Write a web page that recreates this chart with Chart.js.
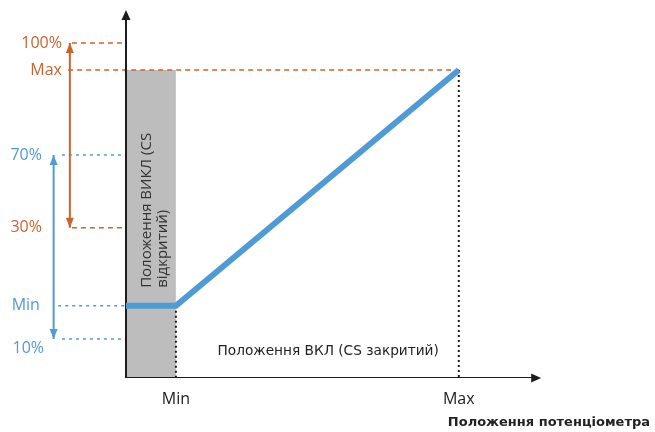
<!DOCTYPE html>
<html>
<head>
<meta charset="utf-8">
<script src="https://cdn.jsdelivr.net/npm/chart.js@4.4.1/dist/chart.umd.min.js"></script>
<style>
  body { margin: 0; background: #ffffff; }
  canvas { display: block; }
</style>
</head>
<body>
<canvas id="schemeChart" width="655" height="432"></canvas>
<script>
// output levels on the vertical axis (schematic units, axis goes 0..100)
const levelNames = ['100%', 'Max', '70%', '30%', 'Min', '10%'];
const levelValues = [91, 83.7, 60.6, 40.8, 19.6, 10.6];

// potentiometer positions on the horizontal axis (axis goes 0..100)
const positionNames = ['Min', 'Max'];
const positionValues = [12, 80];

// output curve: flat at Min until the pot leaves Min, then rises to Max
const curveX = [0, 12, 80];
const curveY = [19.6, 19.6, 83.7];

const ORANGE = '#c8642e';
const BLUE = '#4f9bd5';
const BLACK = '#1c1c1c';

function seg(points, color, width, dash, order) {
    return {
        data: points,
        borderColor: color,
        borderWidth: width,
        borderDash: dash || [],
        borderCapStyle: 'butt',
        pointRadius: 0,
        fill: false,
        order: order
    };
}

function lvl(name) {
    return levelValues[levelNames.indexOf(name)];
}
function pos(name) {
    return positionValues[positionNames.indexOf(name)];
}

document.addEventListener('DOMContentLoaded', function () {
    const ctx = document.getElementById('schemeChart').getContext('2d');

    const datasets = [];

    // blue output curve (on top)
    datasets.push(seg(curveX.map((x, i) => ({ x: x, y: curveY[i] })), BLUE, 6, [], 0));

    // axes
    const axes = seg([{ x: 0, y: 98 }, { x: 0, y: 0 }, { x: 98.5, y: 0 }], BLACK, 2, [], 1);
    axes.borderJoinStyle = 'miter';
    datasets.push(axes);

    // vertical range arrows
    datasets.push(seg([{ x: -13.5, y: lvl('30%') }, { x: -13.5, y: lvl('100%') }], ORANGE, 2, [], 2));
    datasets.push(seg([{ x: -17.4, y: lvl('10%') }, { x: -17.4, y: lvl('70%') }], BLUE, 2, [], 2));

    // orange dashed guides
    datasets.push(seg([{ x: -13, y: lvl('100%') }, { x: 0, y: lvl('100%') }], ORANGE, 1.5, [5, 4], 3));
    datasets.push(seg([{ x: -13.9, y: lvl('Max') }, { x: pos('Max'), y: lvl('Max') }], ORANGE, 1.5, [5, 4], 3));
    datasets.push(seg([{ x: -13, y: lvl('30%') }, { x: 0, y: lvl('30%') }], ORANGE, 1.5, [5, 4], 3));

    // blue dotted guides
    datasets.push(seg([{ x: -15.4, y: lvl('70%') }, { x: 0, y: lvl('70%') }], BLUE, 1.5, [3, 4], 3));
    datasets.push(seg([{ x: -16.3, y: lvl('Min') }, { x: 0, y: lvl('Min') }], BLUE, 1.5, [3, 4], 3));
    datasets.push(seg([{ x: -15.4, y: lvl('10%') }, { x: 0, y: lvl('10%') }], BLUE, 1.5, [3, 4], 3));

    // black dotted verticals at Min / Max position
    datasets.push(seg([{ x: pos('Min'), y: lvl('Min') }, { x: pos('Min'), y: 0 }], BLACK, 2, [2, 3], 4));
    datasets.push(seg([{ x: pos('Max'), y: lvl('Max') }, { x: pos('Max'), y: 0 }], BLACK, 2, [2, 3], 4));

    // grey OFF zone
    datasets.push({
        data: [{ x: 0, y: lvl('Max') }, { x: pos('Min'), y: lvl('Max') }],
        borderColor: 'rgba(0,0,0,0)',
        borderWidth: 1,
        backgroundColor: '#bcbdbc',
        fill: 'origin',
        pointRadius: 0,
        order: 20
    });

    function head(c, x, y, dir, color, w, h) {
        c.save();
        c.fillStyle = color;
        c.beginPath();
        c.moveTo(x, y);
        if (dir === 'up') { c.lineTo(x - w / 2, y + h); c.lineTo(x + w / 2, y + h); }
        if (dir === 'down') { c.lineTo(x - w / 2, y - h); c.lineTo(x + w / 2, y - h); }
        if (dir === 'right') { c.lineTo(x - h, y - w / 2); c.lineTo(x - h, y + w / 2); }
        c.closePath();
        c.fill();
        c.restore();
    }

    const schemeLabels = {
        id: 'schemeLabels',
        afterDatasetsDraw(chart) {
            const c = chart.ctx;
            const xs = chart.scales.x;
            const ys = chart.scales.y;
            const px = v => xs.getPixelForValue(v);
            const py = v => ys.getPixelForValue(v);

            // arrow heads
            head(c, px(0), py(100), 'up', BLACK, 9, 10);
            head(c, px(99.8), py(0), 'right', BLACK, 9, 10);
            head(c, px(-13.5), py(lvl('100%')), 'up', ORANGE, 8, 10);
            head(c, px(-13.5), py(lvl('30%')), 'down', ORANGE, 8, 10);
            head(c, px(-17.4), py(lvl('70%')), 'up', BLUE, 8, 10);
            head(c, px(-17.4), py(lvl('10%')), 'down', BLUE, 8, 10);

            // level labels
            c.save();
            c.font = '16px "Open Sans"';
            c.textAlign = 'right';
            c.textBaseline = 'middle';
            const labelPlace = {
                '100%': [-15.4, 0, ORANGE],
                'Max': [-15.4, 0, ORANGE],
                '70%': [-20.2, 0, BLUE],
                '30%': [-20.2, 0, ORANGE],
                'Min': [-20.7, 0, BLUE],
                '10%': [-19.7, -2.7, BLUE]
            };
            levelNames.forEach((n, i) => {
                const p = labelPlace[n];
                c.fillStyle = p[2];
                c.fillText(n, px(p[0]), py(levelValues[i] + p[1]));
            });

            // position labels
            c.fillStyle = BLACK;
            c.textAlign = 'center';
            positionNames.forEach((n, i) => {
                c.fillText(n, px(positionValues[i]), py(0) + 21);
            });

            c.font = '13.7px "DejaVu Sans"';
            c.fillStyle = '#222';
            c.fillText('Положення ВКЛ (CS закритий)', px(48.6), py(7.1));

            c.font = 'bold 13px "DejaVu Sans"';
            c.textAlign = 'right';
            c.fillText('Положення потенціометра', 650, py(0) + 45);

            // rotated text in the grey zone
            c.translate(px(pos('Min') / 2), py(24.5));
            c.rotate(-Math.PI / 2);
            c.font = '15px "Open Sans"';
            c.fillStyle = '#333';
            c.textAlign = 'left';
            c.fillText('Положення ВИКЛ (CS', 0, -4);
            c.fillText('відкритий)', 0, 12);
            c.restore();
        }
    };

    new Chart(ctx, {
        type: 'line',
        data: { datasets: datasets },
        options: {
            responsive: false,
            animation: false,
            layout: { padding: { left: 1.2, right: 113, top: 10, bottom: 54 } },
            plugins: {
                legend: { display: false },
                tooltip: { enabled: false }
            },
            scales: {
                x: { type: 'linear', min: -30, max: 100, display: false },
                y: { type: 'linear', min: 0, max: 100, display: false }
            },
            elements: { line: { tension: 0 } }
        },
        plugins: [schemeLabels]
    });
});
</script>
</body>
</html>
